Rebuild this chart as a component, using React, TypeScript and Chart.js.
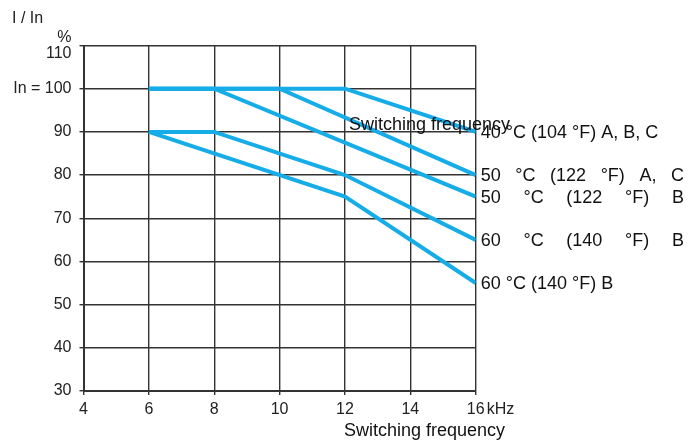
import React, { useEffect, useRef } from "react";
import { Chart, registerables } from "chart.js";

Chart.register(...registerables);

const xTicks = [4, 6, 8, 10, 12, 14, 16];
const yMin = 30;
const yMax = 110;

const s40ac = [[6, 100], [12, 100], [16, 90]];
const s50ac = [[6, 100], [10, 100], [16, 80]];
const s50b = [[6, 100], [8, 100], [16, 75]];
const s60bUpper = [[6, 90], [8, 90], [12, 80], [16, 65]];
const s60bLower = [[6, 90], [12, 75], [16, 55]];

const seriesList = [s40ac, s50ac, s50b, s60bUpper, s60bLower];
const seriesLabels = [
  "40 °C (104 °F) A, B, C",
  "50 °C (122 °F) A, C",
  "50 °C (122 °F) B",
  "60 °C (140 °F) B",
  "60 °C (140 °F) B",
];
const justifiedLabels = [false, true, true, true, false];

const FONT = "'Liberation Sans', Arial, sans-serif";
const LINE_COLOR = "#16ACE8";
const GRID_COLOR = "#333333";

const textPlugin = {
  id: "textPlugin",
  afterDraw(chart: any) {
    const ctx = chart.ctx;
    const xs = chart.scales.x;
    const ys = chart.scales.y;
    ctx.save();
    ctx.textBaseline = "middle";
    ctx.textAlign = "left";

    // top-left unit
    ctx.fillStyle = "#222";
    ctx.font = `16px ${FONT}`;
    ctx.fillText("I / In", 12, 19);

    // kHz after last tick
    ctx.fillText("kHz", xs.getPixelForValue(16) + 11, 410);

    // right-side labels
    ctx.font = `18px ${FONT}`;
    ctx.fillStyle = "#111";
    const x0 = chart.chartArea.right + 5;
    const x1 = 684;
    seriesList.forEach((s, i) => {
      const last = s[s.length - 1];
      const y = ys.getPixelForValue(last[1]) + 1;
      const label = seriesLabels[i];
      if (!justifiedLabels[i]) {
        ctx.fillText(label, x0, y);
      } else {
        const words = label.split(" ");
        const widths = words.map((w) => ctx.measureText(w).width);
        const total = widths.reduce((a, b) => a + b, 0);
        const gap = (x1 - x0 - total) / (words.length - 1);
        let x = x0;
        words.forEach((w, k) => {
          ctx.fillText(w, x, y);
          x += widths[k] + gap;
        });
      }
    });

    // stray title inside chart and axis title
    ctx.fillStyle = "#111";
    ctx.fillText("Switching frequency", 349, 125);
    ctx.fillText("Switching frequency", 344, 431);
    ctx.restore();
  },
};

export default function App() {
  const ref = useRef<HTMLCanvasElement>(null);
  useEffect(() => {
    if (!ref.current) return;
    const chart = new Chart(ref.current, {
      type: "line",
      data: {
        datasets: seriesList.map((s, i) => ({
          label: seriesLabels[i],
          data: s.map(([x, y]) => ({ x, y })),
          borderColor: LINE_COLOR,
          borderWidth: 4,
          pointRadius: 0,
          fill: false,
          tension: 0,
          borderCapStyle: "butt",
          borderJoinStyle: "miter",
        })),
      },
      options: {
        responsive: false,
        animation: false,
        events: [],
        layout: { padding: { left: 0, top: 45.5, right: 223.3, bottom: 0 } },
        plugins: {
          legend: { display: false },
          tooltip: { enabled: false },
          title: { display: false },
        },
        scales: {
          x: {
            type: "linear",
            min: xTicks[0],
            max: xTicks[xTicks.length - 1],
            afterBuildTicks: (scale: any) => {
              scale.ticks = xTicks.map((v) => ({ value: v }));
            },
            afterFit: (scale: any) => {
              scale.height = 52;
            },
            ticks: {
              font: { size: 16, family: FONT },
              color: "#222",
              padding: 5,
              maxRotation: 0,
              autoSkip: false,
            },
            grid: { color: GRID_COLOR, lineWidth: 1.4, tickLength: 4, drawTicks: true },
            border: { color: GRID_COLOR, width: 2 },
          },
          y: {
            type: "linear",
            min: yMin,
            max: yMax,
            afterFit: (scale: any) => {
              scale.width = 83.5;
            },
            ticks: {
              stepSize: 10,
              font: { size: 16, family: FONT, lineHeight: 1 },
              color: "#222",
              padding: 8,
              callback: (v: any) =>
                v === 110 ? ["%", "110"] : v === 100 ? "In = 100" : String(v),
            },
            grid: { color: GRID_COLOR, lineWidth: 1.4, tickLength: 4, drawTicks: true },
            border: { color: GRID_COLOR, width: 2 },
          },
        },
      },
      plugins: [textPlugin],
    });
    return () => chart.destroy();
  }, []);
  return (
    <div style={{ position: "fixed", left: 0, top: 0, width: 699, height: 443, background: "#fff" }}>
      <canvas ref={ref} width={699} height={443} style={{ display: "block" }} />
    </div>
  );
}
